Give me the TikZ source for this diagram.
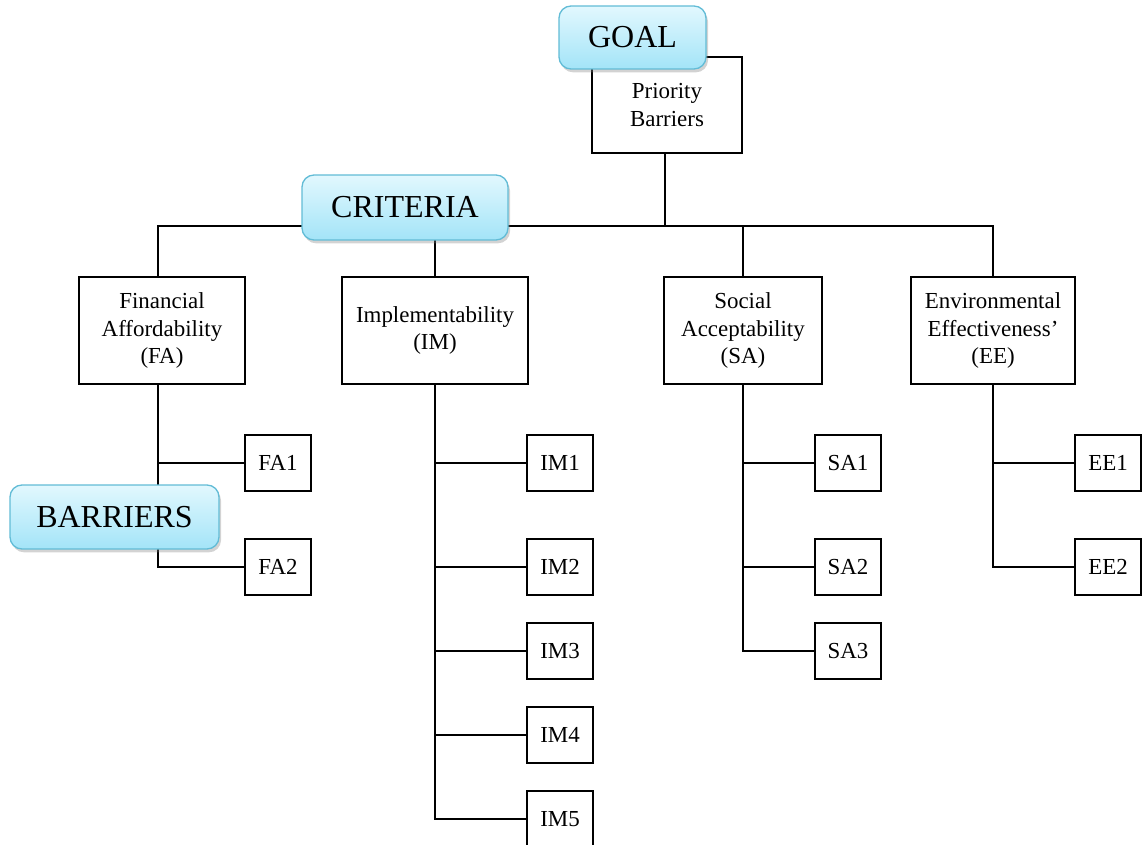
\documentclass[tikz,border=0pt]{standalone}
\usepackage{fontspec}
\setmainfont{Liberation Serif}
\usetikzlibrary{shadows}
\definecolor{lblTop}{HTML}{E2F8FE}
\definecolor{lblBot}{HTML}{A3E4F8}
\definecolor{lblEdge}{HTML}{62BCD6}
\tikzset{
  box/.style={draw=black, line width=1.3pt, fill=white, align=center, inner sep=0pt,
    font=\fontsize{17.2}{20.3}\selectfont},
  lbl/.style={draw=lblEdge, line width=1pt, rounded corners=9pt, top color=lblTop, bottom color=lblBot,
    inner sep=0pt, font=\fontsize{24}{28}\selectfont,
    drop shadow={opacity=0.35, shadow xshift=1.5pt, shadow yshift=-2.5pt}},
  wire/.style={line width=1.3pt, draw=black}
}
\begin{document}
\begin{tikzpicture}[x=0.75pt,y=-0.75pt]
\useasboundingbox (0,0) rectangle (1143,845);
% boxes
\node[box, minimum width=150*0.75pt, minimum height=96*0.75pt] (pb) at (667,105) {Priority\\Barriers};
\node[box, minimum width=166*0.75pt, minimum height=107*0.75pt] (fa) at (162,330.5) {Financial\\Affordability\\(FA)};
\node[box, minimum width=186*0.75pt, minimum height=107*0.75pt] (im) at (435,330.5) {Implementability\\(IM)};
\node[box, minimum width=158*0.75pt, minimum height=107*0.75pt] (sa) at (743,330.5) {Social\\Acceptability\\(SA)};
\node[box, minimum width=164*0.75pt, minimum height=107*0.75pt] (ee) at (993,330.5) {Environmental\\Effectiveness'\\(EE)};
\tikzset{leaf/.style={box, minimum width=66*0.75pt, minimum height=56*0.75pt}}
\node[leaf] (fa1) at (278,463) {FA1};
\node[leaf] (fa2) at (278,567) {FA2};
\node[leaf] (im1) at (560,463) {IM1};
\node[leaf] (im2) at (560,567) {IM2};
\node[leaf] (im3) at (560,651) {IM3};
\node[leaf] (im4) at (560,735) {IM4};
\node[leaf] (im5) at (560,819) {IM5};
\node[leaf] (sa1) at (848,463) {SA1};
\node[leaf] (sa2) at (848,567) {SA2};
\node[leaf] (sa3) at (848,651) {SA3};
\node[leaf] (ee1) at (1108,463) {EE1};
\node[leaf] (ee2) at (1108,567) {EE2};
% connectors
\coordinate (bar) at (665,226);
\draw[wire] (pb.south -| bar) -- (bar);
\draw[wire] (fa.north -| 158,0) |- (bar) -| (ee.north);
\draw[wire] (im.north) -- (im.north |- bar);
\draw[wire] (sa.north) -- (sa.north |- bar);
\draw[wire] (fa.south -| 158,0) |- (fa2.west);
\draw[wire] (158,463) -- (fa1.west);
\draw[wire] (im.south) |- (im5.west);
\draw[wire] (435,463) -- (im1.west);
\draw[wire] (435,567) -- (im2.west);
\draw[wire] (435,651) -- (im3.west);
\draw[wire] (435,735) -- (im4.west);
\draw[wire] (sa.south) |- (sa3.west);
\draw[wire] (743,463) -- (sa1.west);
\draw[wire] (743,567) -- (sa2.west);
\draw[wire] (ee.south) |- (ee2.west);
\draw[wire] (993,463) -- (ee1.west);
% labels
\node[lbl, minimum width=147*0.75pt, minimum height=63*0.75pt] (goal) at (632.5,37.5) {GOAL};
\node[lbl, minimum width=206*0.75pt, minimum height=65*0.75pt] (crit) at (405,207.5) {CRITERIA};
\node[lbl, minimum width=209*0.75pt, minimum height=64*0.75pt] (barr) at (114.5,517) {BARRIERS};
\end{tikzpicture}
\end{document}
